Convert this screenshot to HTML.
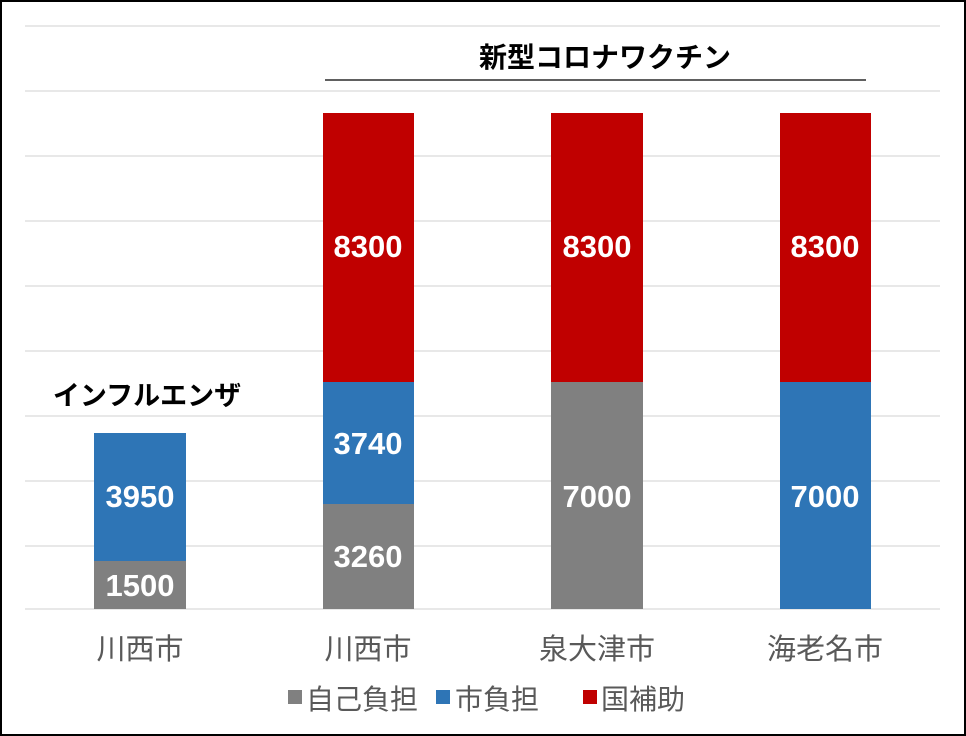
<!DOCTYPE html>
<html><head><meta charset="utf-8"><style>
html,body{margin:0;padding:0;background:#fff;}
svg{display:block;}
text{font-family:"Liberation Sans","Noto Sans CJK JP",sans-serif;}
</style></head><body>
<svg width="966" height="736" viewBox="0 0 966 736" xmlns="http://www.w3.org/2000/svg">
<rect x="1" y="1" width="964" height="734" fill="#fff" stroke="#000" stroke-width="2"/>
<g stroke="#d9d9d9" stroke-width="1.3">
<line x1="25" x2="940" y1="26" y2="26"/>
<line x1="25" x2="940" y1="91" y2="91"/>
<line x1="25" x2="940" y1="156" y2="156"/>
<line x1="25" x2="940" y1="221" y2="221"/>
<line x1="25" x2="940" y1="286" y2="286"/>
<line x1="25" x2="940" y1="351" y2="351"/>
<line x1="25" x2="940" y1="416" y2="416"/>
<line x1="25" x2="940" y1="481" y2="481"/>
<line x1="25" x2="940" y1="546" y2="546"/>
<line x1="25" x2="940" y1="609" y2="609"/>
</g>
<rect x="94" y="561" width="92" height="48" fill="#808080"/>
<rect x="94" y="433" width="92" height="128" fill="#2E75B6"/>
<rect x="323" y="504" width="91" height="105" fill="#808080"/>
<rect x="323" y="382" width="91" height="122" fill="#2E75B6"/>
<rect x="323" y="113" width="91" height="269" fill="#C00000"/>
<rect x="551" y="382" width="92" height="227" fill="#808080"/>
<rect x="551" y="113" width="92" height="269" fill="#C00000"/>
<rect x="780" y="382" width="91" height="227" fill="#2E75B6"/>
<rect x="780" y="113" width="91" height="269" fill="#C00000"/>
<g fill="#fff" font-size="31" font-weight="bold" text-anchor="middle">
<text x="140" y="596">1500</text>
<text x="140" y="507">3950</text>
<text x="368" y="567">3260</text>
<text x="368" y="454">3740</text>
<text x="368" y="257">8300</text>
<text x="597" y="507">7000</text>
<text x="597" y="257">8300</text>
<text x="825" y="507">7000</text>
<text x="825" y="257">8300</text>
</g>
<g fill="#595959" font-size="29" text-anchor="middle">
<text x="140" y="659">川西市</text>
<text x="368" y="659">川西市</text>
<text x="597" y="659">泉大津市</text>
<text x="825" y="659">海老名市</text>
</g>
<text x="605" y="67" font-size="28" font-weight="bold" text-anchor="middle" fill="#000">新型コロナワクチン</text>
<line x1="325" x2="866" y1="80" y2="80" stroke="#000" stroke-width="1.2"/>
<text x="147" y="405" font-size="27" font-weight="bold" text-anchor="middle" fill="#000">インフルエンザ</text>
<g font-size="28" fill="#595959">
<rect x="288" y="690" width="14" height="14" fill="#808080"/>
<text x="306" y="709">自己負担</text>
<rect x="436" y="690" width="14" height="14" fill="#2E75B6"/>
<text x="455" y="709">市負担</text>
<rect x="583" y="690" width="14" height="14" fill="#C00000"/>
<text x="601" y="709">国補助</text>
</g>
</svg>
</body></html>
